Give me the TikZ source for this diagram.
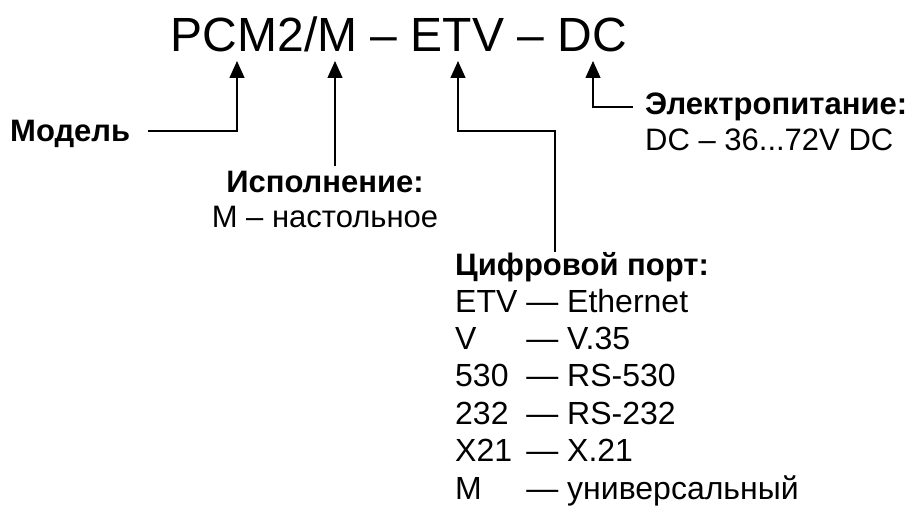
\documentclass[tikz,border=0pt]{standalone}
\usepackage{fontspec}
\setmainfont{Liberation Sans}
\usetikzlibrary{arrows.meta,positioning}

\begin{document}
\begin{tikzpicture}[
  x=1pt, y=-1pt,
  lbl/.style={inner sep=0pt,font=\fontsize{31}{37.4}\selectfont,text height=22pt,text depth=0pt},
  head/.style={lbl,font=\fontsize{31}{37.4}\selectfont\bfseries},
  code/.style={inner sep=0pt,font=\fontsize{48}{56}\selectfont},
  arr/.style={-{Triangle[width=15pt,length=17pt]},line width=1.3pt}
]
\useasboundingbox (0,0) rectangle (917,513);
\node[code, anchor=base] (title) at (399,52) {PCM2/M – ETV – DC};
\coordinate (tipA) at (237,61);
\coordinate (tipB) at (335,61);
\coordinate (tipC) at (458,61);
\coordinate (tipD) at (593,61);
\coordinate (bendC) at (555,131);
\node[head, anchor=base west] (model) at (10,142) {Модель};
\node[head, anchor=base] (isphead) at (325,192) {Исполнение:};
\node[lbl, anchor=base] (ispbody) at (325,227) {М – настольное};
\node[head, anchor=base west] (powhead) at (645,115) {Электропитание:};
\node[lbl, anchor=base west] (powbody) at (645,150) {DC – 36...72V DC};
\node[head, anchor=base west] (porthead) at (455,275) {Цифровой порт:};
\node[inner sep=0pt, anchor=base west, font=\fontsize{32}{37.4}\selectfont] (porttab) at (455,312)
  {\begin{tabular}[t]{@{}l@{ }l@{}}
   ETV & — Ethernet\\
   V   & — V.35\\
   530 & — RS-530\\
   232 & — RS-232\\
   X21 & — X.21\\
   M   & — универсальный
   \end{tabular}};
\draw[arr] ([xshift=18pt]model.east) -| (tipA);
\draw[arr] ([yshift=4pt]isphead.north -| tipB) -- (tipB);
\draw[arr] ([yshift=1pt]porthead.north -| bendC) -- (bendC) -| (tipC);
\draw[arr] ([xshift=-12pt,yshift=-3pt]powhead.west) -| (tipD);
\end{tikzpicture}
\end{document}
